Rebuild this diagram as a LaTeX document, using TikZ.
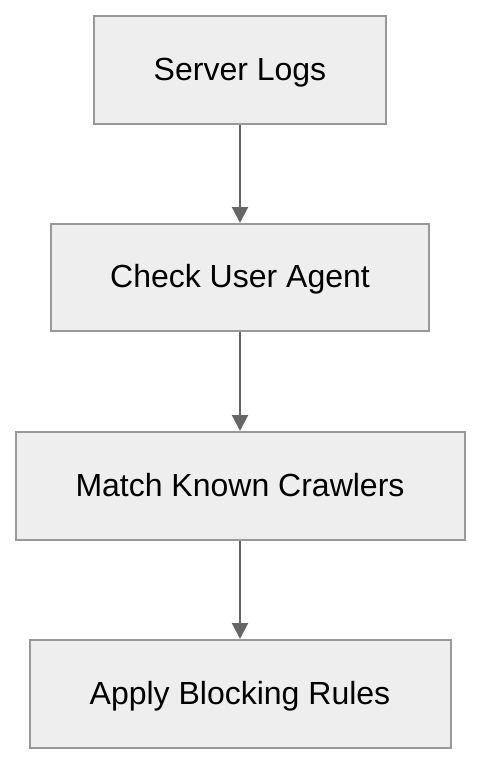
\documentclass[tikz,border=0pt]{standalone}
\usepackage{fontspec}
\setmainfont{Liberation Sans}
\usetikzlibrary{arrows.meta}
\definecolor{boxfill}{HTML}{EEEEEE}
\definecolor{boxline}{HTML}{999999}
\definecolor{arrowcol}{HTML}{666666}
\tikzset{
  stepbox/.style={draw=boxline, fill=boxfill, line width=2pt, rectangle,
    inner sep=0pt, text height=24pt, text depth=4pt,
    font=\fontsize{32}{36}\selectfont, text=black},
  flow/.style={draw=arrowcol, line width=2pt,
    -{Triangle[width=16pt,length=16pt]}, shorten >=0pt}
}
\begin{document}
\begin{tikzpicture}[x=1pt,y=-1pt]
\useasboundingbox (0,0) rectangle (482,764);
\node[stepbox, minimum width=292pt, minimum height=108pt] (a) at (240,70) {Server Logs};
\node[stepbox, minimum width=378pt, minimum height=107pt] (b) at (240,277.5) {Check User Agent};
\node[stepbox, minimum width=449pt, minimum height=108pt] (c) at (240,486) {Match Known Crawlers};
\node[stepbox, minimum width=421pt, minimum height=108pt] (d) at (240,694) {Apply Blocking Rules};
\draw[flow] (a.south) -- (b.north);
\draw[flow] (b.south) -- (c.north);
\draw[flow] (c.south) -- (d.north);
\end{tikzpicture}
\end{document}
